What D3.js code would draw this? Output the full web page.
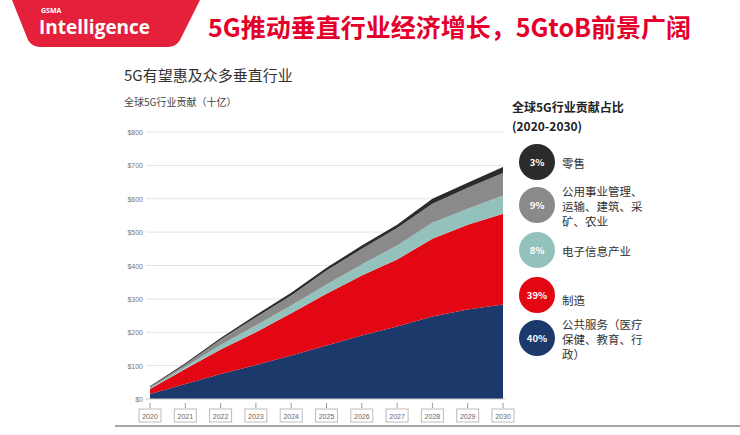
<!DOCTYPE html>
<html><head><meta charset="utf-8">
<script src="https://cdn.jsdelivr.net/npm/d3@7"></script>
<style>body{margin:0;background:#fff;font-family:"Noto Sans CJK SC","Noto Sans",sans-serif}</style>
</head><body><div id="chart"></div>
<script>
const years = [2020,2021,2022,2023,2024,2025,2026,2027,2028,2029,2030];
// values in $bn, stacked bottom-up
const publicServices = [15,45,75,102,130,160,190,217,247,268,283];
const manufacturing  = [15,45,73,98,127,155,180,201,233,254,272];
const electronics    = [3,7,14,20,23,28,33,42,48,48,55];
const utilities      = [3,6,16,25,30,42,47,52,57,63,67];
const retail         = [2,4,5,7,8,8,10,10,15,15,18];
const seriesNames = ["public","manu","elec","util","retail"];
const seriesColors = ["#1b3a6b","#e30613","#93c2bd","#8a8a8a","#2b2b2b"];
const yTicks = [0,100,200,300,400,500,600,700,800];
const legendPct = ["3%","9%","8%","39%","40%"];
const legendLabels = [["零售"],["公用事业管理、","运输、建筑、采","矿、农业"],["电子信息产业"],["制造"],["公共服务（医疗","保健、教育、行","政）"]];
const legendColors = ["#2b2b2b","#8a8a8a","#93c2bd","#e30613","#1b3a6b"];

const W = 740, H = 435;
const svg = d3.select("#chart").append("svg").attr("width", W).attr("height", H);

// header
svg.append("path").attr("d","M12,0 L200,0 L180,40 Q176,47 168,47 L40,47 Q32,47 28,40 Z").attr("fill","#e4203a");
svg.append("text").attr("x",41).attr("y",13).attr("fill","#fff").attr("font-size",7).attr("font-family","Open Sans").attr("font-weight","bold").text("GSMA");
svg.append("text").attr("x",39).attr("y",34).attr("fill","#fff").attr("font-size",19).attr("font-family","Open Sans").attr("font-weight","bold").text("Intelligence");
svg.append("text").attr("x",208).attr("y",37).attr("fill","#e4002b").attr("font-size",25).attr("font-weight","bold").text("5G推动垂直行业经济增长，5GtoB前景广阔");
svg.append("text").attr("x",124).attr("y",81).attr("fill","#333").attr("font-size",15).text("5G有望惠及众多垂直行业");
svg.append("text").attr("x",124).attr("y",106).attr("fill","#444").attr("font-size",10).text("全球5G行业贡献（十亿）");

const x = d3.scaleLinear().domain([2020,2030]).range([150,503]);
const y = d3.scaleLinear().domain([0,800]).range([399,132]);

svg.append("g").selectAll("line").data(yTicks.slice(1)).join("line")
  .attr("x1",146).attr("x2",503).attr("y1",d=>y(d)).attr("y2",d=>y(d))
  .attr("stroke","#e3e3e3");
svg.append("g").selectAll("text").data(yTicks).join("text")
  .attr("x",143).attr("y",d=>y(d)+3).attr("text-anchor","end")
  .attr("font-size",7).attr("fill","#777").attr("font-family","Liberation Sans")
  .text(d=>"$"+d);

const table = years.map((yr,i)=>({year:yr, public:publicServices[i], manu:manufacturing[i], elec:electronics[i], util:utilities[i], retail:retail[i]}));
const stack = d3.stack().keys(seriesNames)(table);
const area = d3.area().x(d=>x(d.data.year)).y0(d=>y(d[0])).y1(d=>y(d[1]));
svg.append("g").selectAll("path").data(stack).join("path")
  .attr("d",area).attr("fill",(d,i)=>seriesColors[i]);

svg.append("line").attr("x1",146).attr("x2",505).attr("y1",399).attr("y2",399).attr("stroke","#ccc");
const xa = svg.append("g").selectAll("g").data(years).join("g").attr("transform",d=>`translate(${x(d)},0)`);
xa.append("line").attr("y1",403).attr("y2",408).attr("stroke","#999");
xa.append("rect").attr("x",-11).attr("y",409).attr("width",22).attr("height",13).attr("fill","#fff").attr("stroke","#bbb");
xa.append("text").attr("y",418.5).attr("text-anchor","middle").attr("font-size",7).attr("fill","#666").attr("font-family","Liberation Sans").text(d=>d);

svg.append("line").attr("x1",115).attr("x2",740).attr("y1",426).attr("y2",426).attr("stroke","#888").attr("stroke-width",1.5);

// legend
svg.append("text").attr("x",512).attr("y",112).attr("font-size",12).attr("font-weight","bold").attr("fill","#222").text("全球5G行业贡献占比");
svg.append("text").attr("x",512).attr("y",131).attr("font-size",12).attr("font-weight","bold").attr("fill","#222").text("(2020-2030)");
const ly = [162,205,250,295,338];
const lg = svg.append("g").selectAll("g").data(legendPct).join("g").attr("transform",(d,i)=>`translate(537,${ly[i]})`);
lg.append("circle").attr("r",18).attr("fill",(d,i)=>legendColors[i]);
lg.append("text").attr("y",3.5).attr("text-anchor","middle").attr("fill","#fff").attr("font-size",9.5).attr("font-weight","bold").text(d=>d);
lg.each(function(d,i){
  const lines = legendLabels[i];
  const off = lines.length===1 ? (i===3?6:2) : -13;
  d3.select(this).selectAll("text.l").data(lines).join("text").attr("class","l")
    .attr("x",25).attr("y",(t,j)=>off+4+j*15).attr("font-size",11.5).attr("fill","#333").text(t=>t);
});
</script></body></html>
